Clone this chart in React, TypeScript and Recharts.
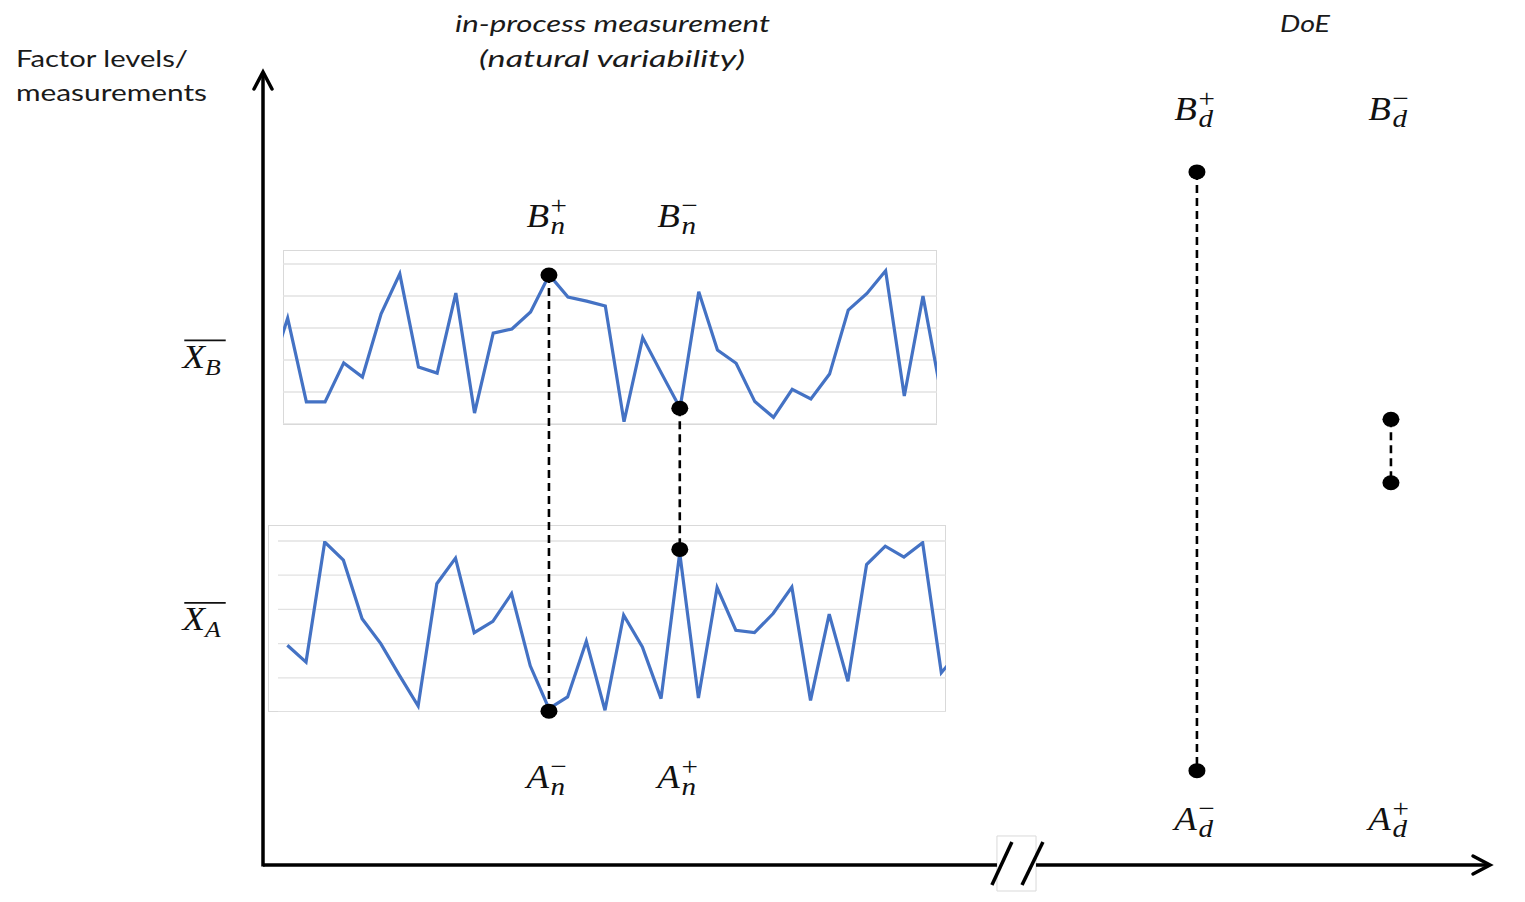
import React from "react";
import {
  ComposedChart,
  LineChart,
  Line,
  Scatter,
  XAxis,
  YAxis,
  CartesianGrid,
  ReferenceLine,
  ReferenceArea,
} from "recharts";

// ---------- data ----------
// in-process measurement of factor B (first value belongs to sample index -1, partly hidden)
const topFirstIndex = -1;
const topValues = [
  14.5, 33.1, 6.9, 6.9, 19.1, 14.7, 34.4, 46.9, 17.8, 15.9, 40.9, 3.4, 28.4, 29.7, 35.0,
  46.6, 39.7, 38.4, 36.9, 0.7, 27.0, 15.9, 5.0, 41.3, 23.1, 19.0, 7.0, 2.1, 10.8, 7.8, 15.6,
  35.6, 40.8, 47.9, 8.75, 40.0, 8.5,
];
// in-process measurement of factor A (starts at sample index 0)
const bottomFirstIndex = 0;
const bottomValues = [
  19.5, 14.6, 49.7, 44.4, 27.3, 20.0, 10.7, 1.75, 37.5, 45.0, 23.2, 26.5, 34.6, 13.5, 1.0,
  4.4, 20.7, 0.5, 28.3, 19.0, 3.9, 46.5, 4.1, 36.4, 23.9, 23.2, 28.8, 36.5, 3.4, 28.6, 9.0,
  43.1, 48.5, 45.3, 49.5, 11.5, 18,
];
const subTicks = [0, 10, 20, 30, 40, 50];

// overview (main) chart points: x = sample index, y = factor level
const pairs = [
  { name: "n-high", top: { x: 14, y: 74.4 }, bottom: { x: 14, y: 19.4 } },
  { name: "n-low", top: { x: 21, y: 57.6 }, bottom: { x: 21, y: 39.8 } },
  { name: "d-1", top: { x: 48.67, y: 87.4 }, bottom: { x: 48.67, y: 11.9 } },
  { name: "d-2", top: { x: 59.05, y: 56.2 }, bottom: { x: 59.05, y: 48.2 } },
];
const pointLabels = [
  { x: 14, y: 80.5, base: "B", sub: "n", sup: "+" },
  { x: 21, y: 80.5, base: "B", sub: "n", sup: "\u2212" },
  { x: 14, y: 9.7, base: "A", sub: "n", sup: "\u2212" },
  { x: 21, y: 9.7, base: "A", sub: "n", sup: "+" },
  { x: 48.67, y: 94.0, base: "B", sub: "d", sup: "+" },
  { x: 59.05, y: 94.0, base: "B", sub: "d", sup: "\u2212" },
  { x: 48.67, y: 4.4, base: "A", sub: "d", sup: "\u2212" },
  { x: 59.05, y: 4.4, base: "A", sub: "d", sup: "+" },
];
const meanTicks = [31.0, 64.1];
const meanTickLabels: Record<string, string> = { "31": "A", "64.1": "B" };

const xDomain: [number, number] = [-1.3, 64.35];
const yDomain: [number, number] = [0, 100];
const axisBreak = { x1: 37.97, x2: 40.06, y1: -3.28, y2: 3.66 };
const slashes = [
  [{ x: 37.7, y: -2.52 }, { x: 38.77, y: 2.9 }],
  [{ x: 39.31, y: -2.52 }, { x: 40.43, y: 2.9 }],
];

const titleLines = ["in-process measurement", "(natural variability)"];
const doeTitle = "DoE";
const yTitleLines = ["Factor levels/", "measurements"];

// ---------- helpers ----------
const topData = topValues.map((v, k) => ({ i: k + topFirstIndex, v }));
const bottomData = bottomValues.map((v, k) => ({ i: k + bottomFirstIndex, v }));
const dots = pairs.flatMap((p) => [p.top, p.bottom]);

const MATH_FONT = "'Liberation Serif', 'Times New Roman', serif";
const SANS_FONT = "Lato, 'Open Sans', sans-serif";
const STRETCH = 1.12;
const BLUE = "#4472C4";
const BASE_SIZE = 33;
const SCRIPT_SIZE = 26;
const BASE_ADV = 0.611 * BASE_SIZE; // italic A / B / X advance
const SIGN_ADV = 0.564 * SCRIPT_SIZE; // + / − advance

const ArrowLine = (p: any) => {
  const { x1, y1, x2, y2 } = p;
  const dx = x2 - x1;
  const dy = y2 - y1;
  const len = Math.hypot(dx, dy) || 1;
  const ux = dx / len;
  const uy = dy / len;
  const nx = -uy;
  const ny = ux;
  const back = 17;
  const half = 9;
  const ax = x2 - ux * back;
  const ay = y2 - uy * back;
  return (
    <g>
      <line x1={x1} y1={y1} x2={x2} y2={y2} stroke="#000" strokeWidth={3.5} />
      <polyline
        points={`${ax + nx * half},${ay + ny * half} ${x2},${y2} ${ax - nx * half},${ay - ny * half}`}
        fill="none"
        stroke="#000"
        strokeWidth={3.5}
        strokeLinecap="round"
      />
    </g>
  );
};

const PlainLine = (p: any) => (
  <line x1={p.x1} y1={p.y1} x2={p.x2} y2={p.y2} stroke="#000" strokeWidth={3.5} />
);

const Dot = (p: any) => <ellipse cx={p.cx} cy={p.cy} rx={8.5} ry={7.5} fill="#000" />;

const MathLabel = (p: any) => {
  const d = p.payload;
  return (
    <g transform={`translate(${p.cx},${p.cy}) scale(${STRETCH},1)`}>
      <text x={-BASE_ADV} y={0} fontFamily={MATH_FONT} fill="#111">
        <tspan fontStyle="italic" fontSize={BASE_SIZE}>{d.base}</tspan>
        <tspan dx={1.5} dy={-13} fontSize={SCRIPT_SIZE}>{d.sup}</tspan>
        <tspan dx={-SIGN_ADV} dy={20} fontStyle="italic" fontSize={SCRIPT_SIZE}>{d.sub}</tspan>
      </text>
    </g>
  );
};

const MeanTick = (p: any) => {
  const v = p.payload?.value;
  const key = String(Math.round(v * 10) / 10);
  const sub = meanTickLabels[key] ?? "";
  return (
    <g transform={`translate(${p.x - 58},${p.y}) scale(${STRETCH},1)`}>
      <line x1={-18.5} x2={18.5} y1={-16.3} y2={-16.3} stroke="#111" strokeWidth={1.8} />
      <text x={-BASE_ADV} y={11} fontFamily={MATH_FONT} fill="#111">
        <tspan fontStyle="italic" fontSize={BASE_SIZE}>X</tspan>
        <tspan dx={0} dy={7} fontStyle="italic" fontSize={SCRIPT_SIZE - 3}>{sub}</tspan>
      </text>
    </g>
  );
};

export default function App() {
  return (
    <div style={{ position: "relative", width: 1525, height: 902, background: "#fff" }}>
      <style>{"body{margin:0;background:#fff}"}</style>

      {/* top in-process box */}
      <div
        style={{
          position: "absolute",
          left: 283,
          top: 250,
          width: 654,
          height: 175,
          border: "1px solid #d9d9d9",
          boxSizing: "border-box",
        }}
      />
      <div style={{ position: "absolute", left: 283, top: 250 }}>
        <LineChart width={654} height={174} data={topData} margin={{ top: 14, right: 0, bottom: 0, left: 0 }}>
          <CartesianGrid horizontal vertical={false} stroke="#e2e2e2" strokeWidth={1.3} />
          <XAxis type="number" dataKey="i" domain={[-0.25, 34.75]} allowDataOverflow hide />
          <YAxis type="number" domain={[0, 50]} ticks={subTicks} allowDataOverflow hide />
          <Line type="linear" dataKey="v" stroke={BLUE} strokeWidth={3.2} dot={false} isAnimationActive={false} />
        </LineChart>
      </div>

      {/* bottom in-process box */}
      <div
        style={{
          position: "absolute",
          left: 268,
          top: 525,
          width: 678,
          height: 187,
          border: "1px solid #d9d9d9",
          boxSizing: "border-box",
        }}
      />
      <div style={{ position: "absolute", left: 278, top: 526 }}>
        <LineChart width={668} height={186} data={bottomData} margin={{ top: 15, right: 0, bottom: 0, left: 0 }}>
          <CartesianGrid horizontal vertical={false} stroke="#e2e2e2" strokeWidth={1.3} />
          <XAxis type="number" dataKey="i" domain={[-0.5, 35.25]} allowDataOverflow hide />
          <YAxis type="number" domain={[0, 50]} ticks={subTicks} allowDataOverflow hide />
          <Line type="linear" dataKey="v" stroke={BLUE} strokeWidth={3.2} dot={false} isAnimationActive={false} />
        </LineChart>
      </div>

      {/* overview chart */}
      <div style={{ position: "absolute", left: 0, top: 0 }}>
        <ComposedChart width={1525} height={902} margin={{ top: 72, right: 35, bottom: 37, left: 163 }}>
          <XAxis type="number" dataKey="x" domain={xDomain} hide />
          <YAxis
            type="number"
            dataKey="y"
            domain={yDomain}
            ticks={meanTicks}
            interval={0}
            width={100}
            axisLine={false}
            tickLine={false}
            tickSize={0}
            tickMargin={0}
            tick={MeanTick}
          />
          <ReferenceArea
            x1={axisBreak.x1}
            x2={axisBreak.x2}
            y1={axisBreak.y1}
            y2={axisBreak.y2}
            fill="#fff"
            fillOpacity={1}
            stroke="#d9d9d9"
            strokeWidth={1}
            ifOverflow="visible"
          />
          <ReferenceLine
            segment={[{ x: xDomain[0], y: -0.2 }, { x: xDomain[0], y: yDomain[1] }]}
            ifOverflow="visible"
            shape={ArrowLine}
          />
          <ReferenceLine
            segment={[{ x: xDomain[0], y: 0 }, { x: axisBreak.x1, y: 0 }]}
            ifOverflow="visible"
            shape={PlainLine}
          />
          <ReferenceLine
            segment={[{ x: axisBreak.x2, y: 0 }, { x: xDomain[1], y: 0 }]}
            ifOverflow="visible"
            shape={ArrowLine}
          />
          {slashes.map((s, k) => (
            <ReferenceLine key={`sl${k}`} segment={s} ifOverflow="visible" shape={PlainLine} />
          ))}
          {pairs.map((p) => (
            <Line
              key={p.name}
              data={[p.top, p.bottom]}
              dataKey="y"
              type="linear"
              stroke="#000"
              strokeWidth={2.6}
              strokeDasharray="8 5"
              dot={false}
              isAnimationActive={false}
            />
          ))}
          <Scatter data={dots} dataKey="y" shape={Dot} isAnimationActive={false} />
          <Scatter data={pointLabels} dataKey="y" shape={MathLabel} isAnimationActive={false} />
        </ComposedChart>
      </div>

      {/* titles */}
      <svg
        width={1525}
        height={902}
        style={{ position: "absolute", left: 0, top: 0, pointerEvents: "none" }}
      >
        <text x={16} y={66.5} fontFamily={SANS_FONT} fontSize={24} fill="#1a1a1a" textLength={172} lengthAdjust="spacingAndGlyphs">
          {yTitleLines[0]}
        </text>
        <text x={16} y={100.5} fontFamily={SANS_FONT} fontSize={24} fill="#1a1a1a" textLength={191} lengthAdjust="spacingAndGlyphs">
          {yTitleLines[1]}
        </text>
        <text x={455} y={31.5} fontFamily={SANS_FONT} fontStyle="italic" fontSize={24} fill="#1a1a1a" textLength={315} lengthAdjust="spacingAndGlyphs">
          {titleLines[0]}
        </text>
        <text x={479} y={66.5} fontFamily={SANS_FONT} fontStyle="italic" fontSize={24} fill="#1a1a1a" textLength={266} lengthAdjust="spacingAndGlyphs">
          {titleLines[1]}
        </text>
        <text x={1280} y={31.5} fontFamily={SANS_FONT} fontStyle="italic" fontSize={24} fill="#1a1a1a" textLength={50} lengthAdjust="spacingAndGlyphs">
          {doeTitle}
        </text>
      </svg>
    </div>
  );
}
